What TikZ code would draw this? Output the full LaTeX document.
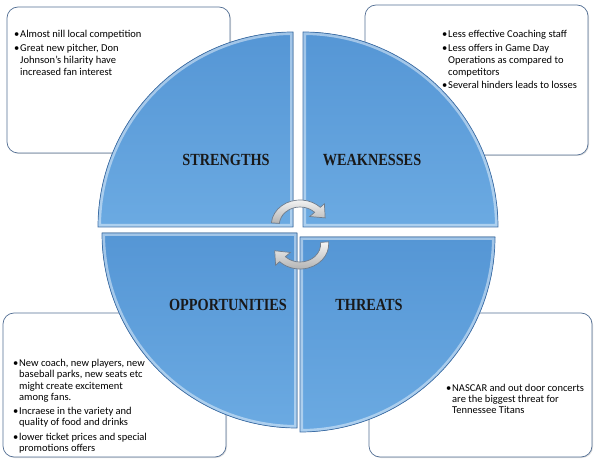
\documentclass[tikz,border=0pt]{standalone}
\usepackage{fontspec}
\setmainfont{Carlito}
\newfontfamily\titlefont{Liberation Serif}
\usetikzlibrary{shadows}
\definecolor{qtop}{HTML}{5596D5}
\definecolor{qbot}{HTML}{6BAAE2}
\definecolor{qedge}{HTML}{3D6FA8}
\definecolor{boxedge}{HTML}{536F94}
\definecolor{arrowedge}{HTML}{6F7C8C}
\tikzset{
 infobox/.style={draw=boxedge, line width=0.7pt, fill=white, rounded corners=11pt, inner sep=0pt,
   drop shadow={shadow xshift=1pt, shadow yshift=-1pt, opacity=0.25}},
 quad/.style={top color=qtop, bottom color=qbot},
 quadedge/.style={draw=qedge, line width=0.7pt},
 bevel/.style={draw=white, opacity=0.45, line width=6pt},
 cyclearrow/.style={top color=gray!8, bottom color=gray!60, draw=arrowedge, line width=0.7pt},
 bodytext/.style={anchor=north west, inner sep=0pt, align=left, font=\fontsize{10.5}{12}\selectfont},
 title/.style={font=\titlefont\bfseries\fontsize{17}{17}\selectfont, inner sep=0pt, text=black!90},
}
\newcommand\bul{\makebox[6pt][l]{\textbullet}}
\newcommand\ind{\hspace*{6pt}}
\newcommand\ttl[1]{\scalebox{0.84}[1]{#1}}
\begin{document}
\begin{tikzpicture}[x=1pt,y=1pt]
\useasboundingbox (0,0) rectangle (594,461);
% info boxes
\node[infobox, minimum width=223pt, minimum height=146pt] (sbox) at (118.5,381) {};
\node[infobox, minimum width=223pt, minimum height=150pt] (wbox) at (476.5,381) {};
\node[infobox, minimum width=223pt, minimum height=144pt] (obox) at (114.5,76) {};
\node[infobox, minimum width=223pt, minimum height=144pt] (tbox) at (480.5,76) {};
% quadrants
\begin{scope}
\clip (293,234) -- (98,234) arc[start angle=180,end angle=90,radius=195] -- cycle;
\fill[quad] (293,234) -- (98,234) arc[start angle=180,end angle=90,radius=195] -- cycle;
\draw[bevel] (293,234) -- (98,234) arc[start angle=180,end angle=90,radius=195] -- cycle;
\end{scope}
\draw[quadedge] (293,234) -- (98,234) arc[start angle=180,end angle=90,radius=195] -- cycle;
\begin{scope}
\clip (303,234) -- (303,429) arc[start angle=90,end angle=0,radius=195] -- cycle;
\fill[quad] (303,234) -- (303,429) arc[start angle=90,end angle=0,radius=195] -- cycle;
\draw[bevel] (303,234) -- (303,429) arc[start angle=90,end angle=0,radius=195] -- cycle;
\end{scope}
\draw[quadedge] (303,234) -- (303,429) arc[start angle=90,end angle=0,radius=195] -- cycle;
\begin{scope}
\clip (297,228) -- (102,228) arc[start angle=180,end angle=270,radius=195] -- cycle;
\fill[quad] (297,228) -- (102,228) arc[start angle=180,end angle=270,radius=195] -- cycle;
\draw[bevel] (297,228) -- (102,228) arc[start angle=180,end angle=270,radius=195] -- cycle;
\end{scope}
\draw[quadedge] (297,228) -- (102,228) arc[start angle=180,end angle=270,radius=195] -- cycle;
\begin{scope}
\clip (300,224) -- (495,224) arc[start angle=0,end angle=-90,radius=195] -- cycle;
\fill[quad] (300,224) -- (495,224) arc[start angle=0,end angle=-90,radius=195] -- cycle;
\draw[bevel] (300,224) -- (495,224) arc[start angle=0,end angle=-90,radius=195] -- cycle;
\end{scope}
\draw[quadedge] (300,224) -- (495,224) arc[start angle=0,end angle=-90,radius=195] -- cycle;
% cycle arrows
\begin{scope}[shift={(300,236)}, xscale=1.15]
\path[cyclearrow] (175:25) arc[start angle=175,end angle=45,radius=25] -- (45:30) -- (18:23) -- (45:12) -- (45:18) arc[start angle=45,end angle=175,radius=18] -- cycle;
\end{scope}
\begin{scope}[shift={(300,217)}, xscale=1.15]
\path[cyclearrow] (5:25) arc[start angle=5,end angle=-135,radius=25] -- (-135:30) -- (-163:23) -- (-135:12) -- (-135:18) arc[start angle=-135,end angle=5,radius=18] -- cycle;
\end{scope}
% titles
\node[title] (s) at (226,301) {\ttl{STRENGTHS}};
\node[title] (w) at (372,301) {\ttl{WEAKNESSES}};
\node[title] (o) at (228,156) {\ttl{OPPORTUNITIES}};
\node[title] (t) at (369,156) {\ttl{THREATS}};
% texts
\node[bodytext] (stext) at (14,430.5) {\bul Almost nill local competition\\[2pt]
\bul Great new pitcher, Don\\ \ind Johnson's hilarity have\\ \ind increased fan interest};
\node[bodytext] (wtext) at (442,430.5) {\bul Less effective Coaching staff\\[2pt]
\bul Less offers in Game Day\\ \ind Operations as compared to\\ \ind competitors\\[1pt]
\bul Several hinders leads to losses};
\node[bodytext, font=\fontsize{10.5}{11.3}\selectfont] (otext) at (13,102) {\bul New coach, new players, new\\ \ind baseball parks, new seats etc\\ \ind might create excitement\\ \ind among fans.\\[3pt]
\bul Incraese in the variety and\\ \ind quality of food and drinks\\[3pt]
\bul lower ticket prices and special\\ \ind promotions offers};
\node[bodytext, font=\fontsize{10.5}{11}\selectfont] (ttext) at (446,77) {\bul NASCAR and out door concerts\\ \ind are the biggest threat for\\ \ind Tennessee Titans};
\end{tikzpicture}
\end{document}
